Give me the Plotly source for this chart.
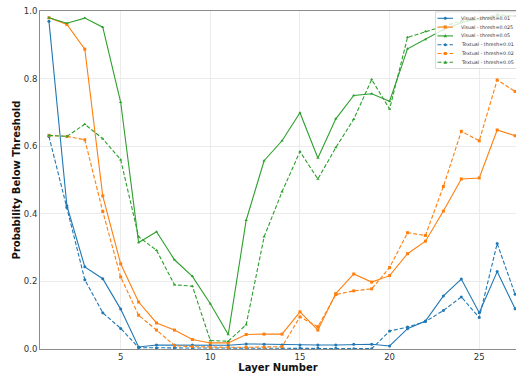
import plotly.graph_objects as go

layers = list(range(1, 28))

visual_001 = [0.970, 0.424, 0.243, 0.208, 0.118, 0.006, 0.012, 0.012, 0.012, 0.012, 0.011, 0.015, 0.014,
              0.012, 0.012, 0.012, 0.012, 0.014, 0.014, 0.009, 0.060, 0.083, 0.157, 0.207, 0.107, 0.229, 0.119]
visual_0025 = [0.980, 0.960, 0.887, 0.453, 0.252, 0.139, 0.077, 0.056, 0.028, 0.018, 0.018, 0.043, 0.044,
               0.044, 0.110, 0.056, 0.164, 0.222, 0.198, 0.217, 0.282, 0.319, 0.408, 0.503, 0.506, 0.648, 0.631]
visual_005 = [0.980, 0.964, 0.979, 0.952, 0.730, 0.315, 0.347, 0.264, 0.215, 0.134, 0.043, 0.381, 0.557,
              0.616, 0.699, 0.565, 0.681, 0.750, 0.755, 0.733, 0.888, 0.916, 0.945, 0.965, 0.978, 0.985, 0.985]
textual_001 = [0.629, 0.419, 0.205, 0.107, 0.061, 0.004, 0.003, 0.003, 0.003, 0.003, 0.003, 0.003, 0.003,
               0.003, 0.003, 0.003, 0.002, 0.001, 0.001, 0.053, 0.065, 0.081, 0.114, 0.154, 0.093, 0.312, 0.162]
textual_002 = [0.632, 0.629, 0.619, 0.407, 0.213, 0.100, 0.056, 0.010, 0.007, 0.005, 0.005, 0.005, 0.005,
               0.007, 0.095, 0.066, 0.161, 0.172, 0.178, 0.241, 0.344, 0.336, 0.481, 0.644, 0.616, 0.796, 0.762]
textual_005 = [0.632, 0.629, 0.665, 0.622, 0.560, 0.332, 0.292, 0.190, 0.186, 0.025, 0.023, 0.072, 0.332,
               0.465, 0.584, 0.503, 0.596, 0.680, 0.797, 0.710, 0.922, 0.939, 0.955, 0.970, 0.975, 0.990, 0.985]

series_names = ["Visual - thresh=0.01", "Visual - thresh=0.025", "Visual - thresh=0.05",
                "Textual - thresh=0.01", "Textual - thresh=0.02", "Textual - thresh=0.05"]
series_values = [visual_001, visual_0025, visual_005, textual_001, textual_002, textual_005]

x_ticks = [5, 10, 15, 20, 25]
y_ticks = [0.0, 0.2, 0.4, 0.6, 0.8, 1.0]

colors = ["#1f77b4", "#ff7f0e", "#2ca02c", "#1f77b4", "#ff7f0e", "#2ca02c"]
symbols = ["circle", "square", "triangle-up", "circle", "square", "triangle-up"]
dashes = ["solid", "solid", "solid", "4px,2px", "4px,2px", "4px,2px"]

fig = go.Figure()
for name, vals, c, s, d in zip(series_names, series_values, colors, symbols, dashes):
    fig.add_trace(go.Scatter(
        x=layers, y=vals, name=name, mode="lines+markers",
        line=dict(color=c, width=1.1, dash=d),
        marker=dict(color=c, size=3, symbol=s),
        showlegend=False, cliponaxis=True,
    ))

# --- manual compact legend (matplotlib-like) ---
W, H, L, T = 476.0, 338.0, 40.0, 11.0
def px(p):
    return (p - L) / W
def py(p):
    return (T + H - p) / H

shapes = []
annotations = []
shapes.append(dict(type="rect", xref="paper", yref="paper",
                   x0=px(435.5), x1=px(530), y0=py(68.5), y1=py(11.8),
                   line=dict(color="#d0d0d0", width=0.8),
                   fillcolor="rgba(255,255,255,0.8)", layer="above"))
row_y = [18.3, 27.1, 35.9, 44.7, 53.5, 62.3]
for name, c, s, d, ry in zip(series_names, colors, symbols, dashes, row_y):
    shapes.append(dict(type="line", xref="paper", yref="paper",
                       x0=px(437.5), x1=px(453), y0=py(ry), y1=py(ry),
                       line=dict(color=c, width=1.1, dash=d), layer="above"))
    if s == "circle":
        shapes.append(dict(type="circle", xref="paper", yref="paper",
                           xsizemode="pixel", ysizemode="pixel",
                           xanchor=px(445.3), yanchor=py(ry),
                           x0=-1.5, x1=1.5, y0=-1.5, y1=1.5,
                           fillcolor=c, line=dict(width=0), layer="above"))
    elif s == "square":
        shapes.append(dict(type="rect", xref="paper", yref="paper",
                           xsizemode="pixel", ysizemode="pixel",
                           xanchor=px(445.3), yanchor=py(ry),
                           x0=-1.5, x1=1.5, y0=-1.5, y1=1.5,
                           fillcolor=c, line=dict(width=0), layer="above"))
    else:
        shapes.append(dict(type="path", xref="paper", yref="paper",
                           xsizemode="pixel", ysizemode="pixel",
                           xanchor=px(445.3), yanchor=py(ry),
                           path="M -1.8,-1.4 L 1.8,-1.4 L 0,1.8 Z",
                           fillcolor=c, line=dict(width=0), layer="above"))
    annotations.append(dict(xref="paper", yref="paper", x=px(458.5), y=py(ry),
                            xanchor="left", yanchor="middle", showarrow=False,
                            text=name, font=dict(family="DejaVu Sans", size=4.8, color="#333333")))

fig.update_layout(
    width=516, height=374,
    margin=dict(l=40, r=0, t=11, b=25),
    paper_bgcolor="white", plot_bgcolor="white",
    font=dict(family="DejaVu Sans", color="#333333"),
    shapes=shapes, annotations=annotations,
    showlegend=False,
)
fig.update_xaxes(
    range=[0.5, 27.05], tickvals=x_ticks, ticktext=[str(v) for v in x_ticks],
    showgrid=True, gridcolor="#ebebeb", gridwidth=0.8,
    showline=True, linecolor="#8c8c8c", linewidth=1, mirror=True,
    zeroline=False, ticks="", tickfont=dict(size=8.5, color="#333333"),
    title=dict(text="<b>Layer Number</b>", font=dict(size=10, color="#111111"), standoff=0),
)
fig.update_yaxes(
    range=[0, 1.0], tickvals=y_ticks, ticktext=[f"{v:.1f}" for v in y_ticks],
    showgrid=True, gridcolor="#ebebeb", gridwidth=0.8,
    showline=True, linecolor="#8c8c8c", linewidth=1, mirror=True,
    zeroline=False, ticks="", tickfont=dict(size=8.5, color="#333333"),
    title=dict(text="<b>Probability Below Threshold</b>", font=dict(size=10, color="#111111"), standoff=1),
)

fig.write_html("out.html", config={"displayModeBar": False},
               post_script="document.body.style.margin='0px';document.body.style.overflow='hidden';")
